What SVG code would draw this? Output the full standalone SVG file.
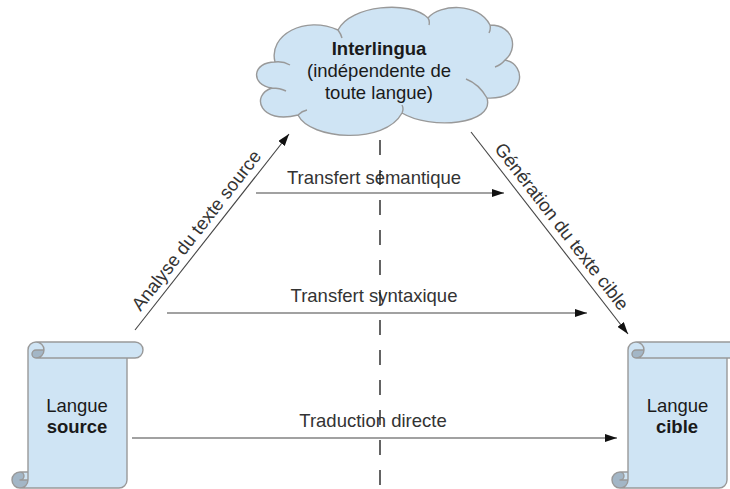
<svg xmlns="http://www.w3.org/2000/svg" xmlns:xlink="http://www.w3.org/1999/xlink" width="730" height="489" viewBox="0 0 730 489">
<defs>
<marker id="ah" markerWidth="12" markerHeight="8" refX="12" refY="4" orient="auto" markerUnits="userSpaceOnUse"><path d="M0,0 L12,4 L0,8 Z" fill="#111"/></marker>
<style>
.lbl{font-family:"Liberation Sans",Arial,sans-serif;font-size:18.5px;fill:#333;text-anchor:middle}
.nt{font-family:"Liberation Sans",Arial,sans-serif;font-size:18.5px;fill:#1a1a1a;text-anchor:middle}
.b{font-weight:bold}
.fillc{fill:#cfe4f4;stroke:none}
.dark{fill:#a3b6c6;stroke:none}
.edge{fill:none;stroke:#999;stroke-width:1.4;stroke-linejoin:round}
.conn{stroke:#444;stroke-width:1.1;fill:none;marker-end:url(#ah)}
.dash{stroke:#111;stroke-width:1.3;stroke-dasharray:15 15;fill:none}
</style>
<g id="scroll">
<path class="fillc" d="M16,130 L16,8 A8 8 0 0 1 24,0 L123,0 A8 8 0 0 1 123,16 L115,16 L115,138 A8 8 0 0 1 107,146 L8,146 A8 8 0 0 1 8,130 Z"/>
<path class="dark" d="M32,8 A8 8 0 0 1 24,16 A4 4 0 0 1 24,8 Z"/>
<path class="dark" d="M16,138 A8 8 0 1 1 8,130 A4 4 0 0 1 8,138 Z"/>
<path class="edge" d="M16,130 L16,8 A8 8 0 0 1 24,0 L123,0 A8 8 0 0 1 123,16 L115,16 L115,138 A8 8 0 0 1 107,146 L8,146 A8 8 0 0 1 8,130 Z M24,0 A8 8 0 0 1 24,16 A4 4 0 0 1 24,8 L32,8 M115,16 L24,16 M8,130 A4 4 0 0 1 8,138 L16,138 M8,146 A8 8 0 0 0 16,138 L16,130"/>
</g>
</defs>
<rect x="0" y="0" width="730" height="489" fill="#ffffff"/>

<g id="node-interlingua">
<path class="fillc" d="M275,62 C268,35 305,15 338,30 C350,5 410,0 428,18 C440,4 478,2 490,25 C515,25 518,50 505,60 C528,65 525,100 487,98 C495,125 430,130 402,113 C385,145 310,140 298,115 C260,125 250,95 272,88 C250,85 252,62 275,62 Z"/>
<path class="edge" d="M275,62 C268,35 305,15 338,30 C350,5 410,0 428,18 C440,4 478,2 490,25 C515,25 518,50 505,60 C528,65 525,100 487,98 C495,125 430,130 402,113 C385,145 310,140 298,115 C260,125 250,95 272,88 C250,85 252,62 275,62 Z M275,62 Q283,61 290,65 M338,30 Q341,34 342,38 M428,18 Q430,21 429,25 M490,25 Q491,29 489,33 M505,60 Q501,65 495,67 M487,98 Q479,84 466,79 M402,113 Q404,109 402,105 M298,115 Q302,111 307,110 M272,88 Q280,88 286,91"/>
<text class="nt b" x="379" y="55">Interlingua</text>
<text class="nt" x="379" y="77">(indépendente de</text>
<text class="nt" x="379" y="98.5">toute langue)</text>
</g>

<g id="node-source">
<use xlink:href="#scroll" transform="translate(12,342)"/>
<text class="nt" x="77" y="411.5">Langue</text>
<text class="nt b" x="77" y="432.5">source</text>
</g>

<g id="node-cible">
<use xlink:href="#scroll" transform="translate(612,342)"/>
<text class="nt" x="677.5" y="411.5">Langue</text>
<text class="nt b" x="677" y="432.5">cible</text>
</g>

<g id="connectors">
<line class="conn" x1="135" y1="330" x2="289" y2="134"/>
<text class="lbl" transform="translate(206,238) rotate(-52)" x="0" y="-6">Analyse du texte source</text>
<line class="conn" x1="471" y1="132" x2="628" y2="334"/>
<text class="lbl" transform="translate(552,234) rotate(52.2)" x="0" y="-6">Génération du texte cible</text>
<line class="conn" x1="256" y1="193" x2="504" y2="193"/>
<text class="lbl" x="374" y="183.5">Transfert sémantique</text>
<line class="conn" x1="167" y1="313" x2="587" y2="313"/>
<text class="lbl" x="374" y="302">Transfert syntaxique</text>
<line class="conn" x1="132" y1="438" x2="617" y2="438"/>
<text class="lbl" x="373" y="427">Traduction directe</text>
<line class="dash" x1="380" y1="140" x2="380" y2="489"/>
</g>
</svg>
